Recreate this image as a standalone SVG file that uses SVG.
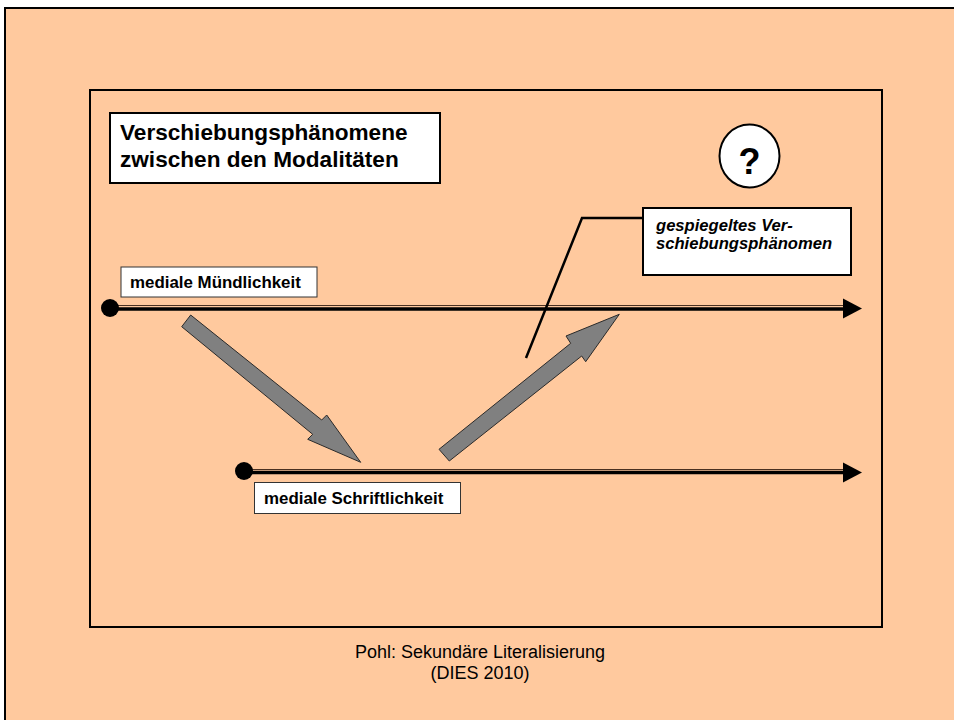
<svg xmlns="http://www.w3.org/2000/svg" width="954" height="720" viewBox="0 0 954 720">
  <style>
    .frame { fill: none; stroke: #000; stroke-width: 2; }
    .box { fill: #fff; stroke: #000; stroke-width: 2; }
    .tag { fill: #fff; stroke: #333; stroke-width: 1; }
    .t { font-family: "Liberation Sans", Arial, sans-serif; fill: #000; }
    .bold { font-weight: bold; }
    .rail { stroke: #000; stroke-width: 3.5; fill: none; }
    .rail-edge { stroke: #4a3020; stroke-width: 1; fill: none; }
    .head { fill: #000; }
    .dot { fill: #000; }
    .block { fill: #808080; stroke: #2a2a2a; stroke-width: 1; stroke-linejoin: miter; }
    .lead { fill: none; stroke: #000; stroke-width: 2.5; }
  </style>

  <!-- slide background -->
  <rect x="0" y="0" width="954" height="720" fill="#fff"/>
  <rect x="5" y="8" width="1000" height="800" fill="#FFC99E" stroke="#000" stroke-width="2"/>

  <!-- content frame -->
  <rect class="frame" x="90" y="90" width="792" height="537"/>

  <g id="connectors">
    <!-- timeline: mediale Muendlichkeit -->
    <line class="rail-edge" x1="114" y1="305.5" x2="845" y2="305.5"/>
    <line class="rail" x1="110" y1="309" x2="846" y2="309"/>
    <polygon class="head" points="843,298.5 862,308.5 843,318.5"/>
    <circle class="dot" cx="110" cy="308" r="9"/>

    <!-- timeline: mediale Schriftlichkeit -->
    <line class="rail-edge" x1="248" y1="469.5" x2="845" y2="469.5"/>
    <line class="rail" x1="244" y1="472.5" x2="846" y2="472.5"/>
    <polygon class="head" points="843,462.5 862,472.5 843,482.5"/>
    <circle class="dot" cx="244" cy="471" r="9"/>

    <!-- shift down into writing -->
    <polygon class="block" points="190.7,315 321.7,420 326.7,415 360.7,462.3 307.7,439.3 312.7,434.3 181.7,326.7"/>
    <!-- mirrored shift back up -->
    <polygon class="block" points="439,449.3 570.7,343.3 566,336 619.3,314.3 585.7,361.7 581.7,356 449.3,461"/>

    <!-- callout leader -->
    <polyline class="lead" points="526,358 582,218 643,218"/>
  </g>

  <g id="title">
    <rect class="box" x="110" y="113" width="330" height="70"/>
    <text class="t bold" x="120" y="140" font-size="22.6">Verschiebungsphänomene</text>
    <text class="t bold" x="120" y="167" font-size="22.6">zwischen den Modalitäten</text>
  </g>

  <g id="question">
    <ellipse class="box" cx="749.5" cy="156" rx="30" ry="31.5"/>
    <text class="t bold" x="749.5" y="174" font-size="36" text-anchor="middle">?</text>
  </g>

  <g id="callout">
    <rect class="box" x="643" y="208" width="208" height="67"/>
    <text class="t bold" x="656" y="231" font-size="16.6" font-style="italic">gespiegeltes Ver-</text>
    <text class="t bold" x="656" y="249" font-size="16.6" font-style="italic">schiebungsphänomen</text>
  </g>

  <g id="label-muendlich">
    <rect class="tag" x="121" y="267" width="196" height="30"/>
    <text class="t bold" x="130" y="288" font-size="16.9">mediale Mündlichkeit</text>
  </g>

  <g id="label-schriftlich">
    <rect class="tag" x="254.5" y="482.5" width="206" height="31"/>
    <text class="t bold" x="264" y="504" font-size="16.9">mediale Schriftlichkeit</text>
  </g>

  <g id="footer">
    <text class="t" x="480" y="658" font-size="18" text-anchor="middle">Pohl: Sekundäre Literalisierung</text>
    <text class="t" x="480" y="679" font-size="18" text-anchor="middle">(DIES 2010)</text>
  </g>
</svg>
